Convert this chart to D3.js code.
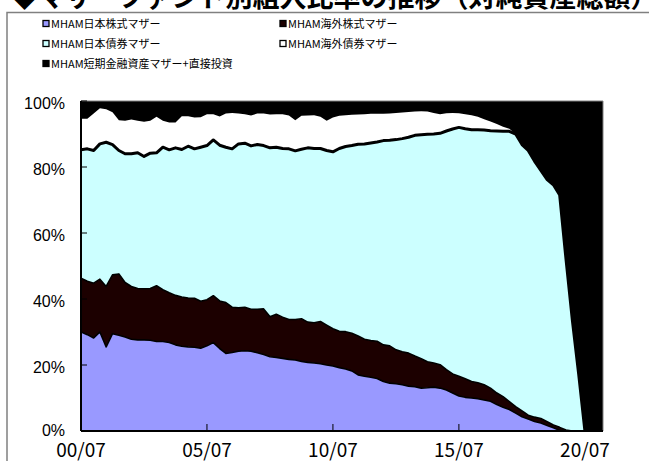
<!DOCTYPE html>
<html><head><meta charset="utf-8">
<script src="https://cdn.jsdelivr.net/npm/d3@7"></script>
<style>html,body{margin:0;padding:0;background:#fff;overflow:hidden}</style>
</head><body>
<svg id="c" width="649" height="461"></svg>
<script>
const title = "◆マザーファンド別組入比率の推移（対純資産総額）";
const seriesNames = ["MHAM日本株式マザー","MHAM海外株式マザー","MHAM日本債券マザー","MHAM海外債券マザー","MHAM短期金融資産マザー+直接投資"];
const seriesColors = ["#9999ff","#1c0000","#ccffff","#ffffff","#000000"];
const xTickLabels = ["00/07","05/07","10/07","15/07","20/07"];
const yTicks = [0,20,40,60,80,100];

// quarterly observations, 2000/07 .. 2021/04
const jpEquity = [30.0,29.2,28.2,30.0,25.5,29.5,29.0,28.5,27.8,27.6,
27.6,27.5,27.1,27.1,26.8,26.1,25.7,25.5,25.4,25.1,
25.8,26.8,25.0,23.5,23.8,24.2,24.3,24.2,23.7,23.2,
22.5,22.3,22.0,21.7,21.5,21.1,20.8,20.6,20.4,20.0,
19.7,19.2,18.8,18.2,17.0,16.6,16.3,15.9,15.0,14.5,
14.3,14.0,13.6,13.4,13.0,13.1,13.3,13.0,12.4,11.5,
10.6,10.2,10.0,9.8,9.4,9.0,8.0,7.2,6.5,5.4,
4.3,3.6,2.9,2.4,1.7,1.0,0.2,0,0,0,
0,0,0,0];
const fxEquity = [16.3,16.2,16.6,16.0,18.3,17.8,18.6,16.5,16.0,15.6,
15.5,15.7,16.9,15.7,15.1,15.0,14.9,14.8,14.8,14.2,
14.0,14.2,14.4,15.4,13.7,13.1,13.2,12.7,13.2,13.8,
12.1,13.1,12.5,12.1,12.3,12.9,12.2,12.2,12.8,12.1,
11.3,11.0,11.3,11.4,11.8,11.2,11.1,11.3,11.1,11.3,
10.3,10.0,10.0,9.3,8.9,7.9,7.3,7.1,6.2,5.8,
6.0,5.6,5.0,4.8,4.6,4.0,3.5,3.2,2.4,2.0,
1.8,1.2,1.3,1.4,1.1,0.8,0.9,0.3,0,0,
0,0,0,0];
const jpBond = [38.9,40.1,40.2,41.0,43.7,39.5,37.4,39.0,40.2,41.1,
40.1,41.0,40.3,43.2,43.3,44.7,44.7,46.0,45.3,46.7,
46.7,47.2,47.2,47.1,48.0,49.7,49.7,49.5,49.9,49.5,
51.2,50.6,51.1,51.7,51.1,51.4,52.8,52.8,52.4,52.9,
53.6,55.4,56.1,56.9,58.1,59.2,59.9,60.4,61.9,62.3,
63.7,64.6,65.4,66.9,67.9,68.9,69.4,70.1,72.3,74.2,
75.4,75.8,76.3,76.7,77.2,78.0,79.4,80.4,81.9,82.6,
80.7,80.2,77.6,75.2,73.4,72.8,70.4,51.7,33.5,17.3,
0,0,0,0];
const fxBond = [9.4,9.1,11.2,10.8,10.0,9.8,9.2,10.0,10.4,9.7,
10.5,9.8,10.9,8.0,8.3,7.7,10.1,9.1,9.5,9.1,
9.5,7.8,8.7,10.2,10.9,9.2,8.8,9.2,9.4,9.7,
10.1,10.0,10.4,10.1,9.3,10.1,9.8,10.1,9.6,9.0,
10.4,9.9,9.5,9.3,9.0,9.0,8.8,8.5,8.1,8.1,
8.1,7.9,7.7,7.2,7.1,6.9,6.4,5.8,5.4,4.9,
4.3,4.4,4.4,3.9,3.3,2.8,2.1,1.4,0.8,0,
0,0,0,0,0,0,0,0,0,0,
0,0,0,0];
const shortTerm = [5.4,5.4,3.8,2.2,2.5,3.4,5.8,6.0,5.6,6.0,
6.3,6.0,4.8,6.0,6.5,6.5,4.6,4.6,5.0,4.9,
4.0,4.0,4.7,3.8,3.6,3.8,4.0,4.4,3.8,3.8,
4.1,4.0,4.0,4.4,5.8,4.5,4.4,4.3,4.8,6.0,
5.0,4.5,4.3,4.2,4.1,4.0,3.9,3.9,3.9,3.8,
3.6,3.5,3.3,3.2,3.1,3.2,3.6,4.0,3.7,3.6,
3.7,4.0,4.3,4.8,5.5,6.2,7.0,7.8,8.4,10.0,
13.2,15.0,18.2,21.0,23.8,25.4,28.5,48.0,66.5,82.7,
100,100,100,100];

const dates = jpEquity.map((_, i) => new Date(2000, 6 + 3 * i, 1));
const keys = ["a","b","c","d","e"];
const rows = dates.map((d, i) => ({date: d, a: jpEquity[i], b: fxEquity[i], c: jpBond[i], d: fxBond[i], e: shortTerm[i]}));

const svg = d3.select("#c");
const L = 81, R = 603, T = 101, B = 431;
const x = d3.scaleTime().domain([new Date(2000,6,1), new Date(2021,2,20)]).range([L, R]);
const y = d3.scaleLinear().domain([0, 100]).range([B, T]);

// outer frame
svg.append("rect").attr("x", 7).attr("y", 12.5).attr("width", 700).attr("height", 500)
  .attr("fill", "#fff").attr("stroke", "#808080").attr("stroke-width", 1.5);

// title (clipped at top)
svg.append("text").attr("x", 11).attr("y", 7).text(title)
  .attr("font-family", "'Noto Sans CJK JP'").attr("font-weight", "bold").attr("font-size", 27).attr("fill", "#000");

// legend
const legPos = [[43,24],[280,24],[43,44],[280,44],[43,64]];
seriesNames.forEach((n, i) => {
  const [lx, ly] = legPos[i];
  svg.append("rect").attr("x", lx).attr("y", ly - 3.5).attr("width", 6).attr("height", 6)
    .attr("fill", seriesColors[i]).attr("stroke", "#000").attr("stroke-width", 1.3);
  svg.append("text").attr("x", lx + 8).attr("y", ly + 4).text(n)
    .attr("font-family", "'Noto Sans CJK JP'").attr("font-size", 11).attr("fill", "#000");
});

// clip
svg.append("defs").append("clipPath").attr("id", "pc").append("rect")
  .attr("x", L).attr("y", T).attr("width", R - L).attr("height", B - T);

const stack = d3.stack().keys(keys)(rows);
const g = svg.append("g").attr("clip-path", "url(#pc)");
const area = d3.area().x(d => x(d.data.date)).y0(d => y(d[0])).y1(d => y(d[1]));
g.selectAll("path.layer").data(stack).join("path").attr("class", "layer")
  .attr("d", area).attr("fill", (d, i) => seriesColors[i]);

const line = d3.line().x(d => x(d.data.date)).y(d => y(d[1]));
const strokeW = [1.6, 1.6, 3, 0];
stack.slice(0, 3).forEach((s, i) => {
  g.append("path").attr("d", line(s)).attr("fill", "none").attr("stroke", "#000")
    .attr("stroke-width", strokeW[i]).attr("stroke-linejoin", "round");
});

// plot border top/right
svg.append("path").attr("d", `M${L},${T}H${R}V${B}`).attr("fill", "none").attr("stroke", "#808080").attr("stroke-width", 1);

// y axis
svg.append("line").attr("x1", L).attr("x2", L).attr("y1", T).attr("y2", B).attr("stroke", "#000").attr("stroke-width", 2);
yTicks.forEach(v => {
  svg.append("line").attr("x1", L).attr("x2", L + 6).attr("y1", y(v)).attr("y2", y(v)).attr("stroke", "#000").attr("stroke-width", 1);
  svg.append("text").attr("x", 65).attr("y", y(v) + (v === 0 ? 5 : 7.5)).attr("text-anchor", "end").text(v + "%")
    .attr("font-family", "'Liberation Sans', Arial").attr("font-size", 16).attr("fill", "#000");
});

// x axis
svg.append("line").attr("x1", L).attr("x2", R).attr("y1", B).attr("y2", B).attr("stroke", "#000").attr("stroke-width", 2);
xTickLabels.forEach((lab, i) => {
  const d = new Date(2000 + 5 * i, 6, 1);
  const xx = x(d);
  svg.append("line").attr("x1", xx).attr("x2", xx).attr("y1", B).attr("y2", B - 7).attr("stroke", "#000").attr("stroke-width", 1);
  svg.append("text").attr("x", xx).attr("y", 457).attr("text-anchor", "middle").text(lab)
    .attr("font-family", "'Noto Sans CJK JP'").attr("font-size", 19).attr("fill", "#000");
});
</script>
</body></html>
